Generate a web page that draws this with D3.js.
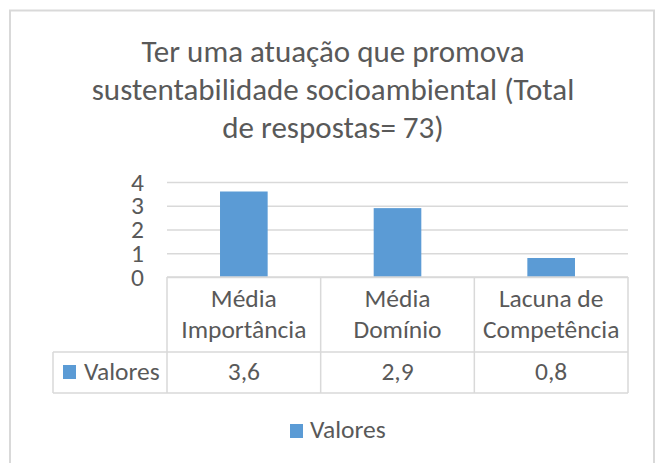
<!DOCTYPE html>
<html>
<head>
<meta charset="utf-8">
<script src="https://cdn.jsdelivr.net/npm/d3@7"></script>
<style>
  body { margin: 0; background: #fff; }
  text { font-family: Carlito, Calibri, "Liberation Sans Narrow", "DejaVu Sans Condensed", "Open Sans", sans-serif; fill: #595959; }
</style>
</head>
<body>
<script>
// Chart data

let titleLines = ["Ter uma atuação que promova", "sustentabilidade socioambiental (Total", "de respostas= 73)"]
let categories = ["Média Importância", "Média Domínio", "Lacuna de Competência"]
let categoryLines = [["Média", "Importância"], ["Média", "Domínio"], ["Lacuna de", "Competência"]]
let seriesName = "Valores"
let values = [3.6, 2.9, 0.8]
let valueLabels = ["3,6", "2,9", "0,8"]
let yTicks = [0, 1, 2, 3, 4]

// Container sizing

let width = 656
let height = 463

let plot = { left: 167, right: 628, top: 182, bottom: 277 }
let table = { left: 53, rowTop: 352, bottom: 393 }

let barColor = "#5b9bd5"
let lineColor = "#d9d9d9"
let labelSize = 25.5

let svg = d3.select('body')
    .append('svg')
    .attr('width', width)
    .attr('height', height)

// Chart frame (bottom edge runs past the picture)
svg.append('rect')
    .attr('x', 10)
    .attr('y', 10.5)
    .attr('width', 644)
    .attr('height', height + 10)
    .attr('fill', '#fff')
    .attr('stroke', lineColor)
    .attr('stroke-width', 2)

// Title
svg.append('text')
    .attr('text-anchor', 'middle')
    .attr('font-size', 31)
    .selectAll('tspan')
    .data(titleLines)
    .join('tspan')
    .attr('x', 333)
    .attr('y', (d, i) => 62 + i * 38)
    .text(d => d)

// Scales
let xScale = d3.scaleBand()
    .domain(categories)
    .range([plot.left, plot.right])
    .paddingInner(0.69)
    .paddingOuter(0.345)

let colScale = d3.scaleBand()
    .domain(categories)
    .range([plot.left, plot.right])

let yScale = d3.scaleLinear()
    .domain([0, 4])
    .range([plot.bottom, plot.top])

// Gridlines + y labels
let yAxis = d3.axisLeft(yScale)
    .tickValues(yTicks)
    .tickFormat(d3.format('d'))
    .tickSizeInner(-(plot.right - plot.left))
    .tickSizeOuter(0)
    .tickPadding(23)

let yGroup = svg.append('g')
    .attr('transform', `translate(${plot.left}, 0)`)
    .call(yAxis)

yGroup.select('.domain').remove()
yGroup.selectAll('.tick line').attr('stroke', lineColor).attr('stroke-width', 1.5)
yGroup.selectAll('.tick text')
    .attr('font-size', labelSize)
    .attr('fill', '#595959')
    .attr('font-family', null)

// Bars
svg.selectAll('.bar')
    .data(values)
    .join('rect')
    .attr('class', 'bar')
    .attr('x', (d, i) => xScale(categories[i]))
    .attr('y', d => yScale(d))
    .attr('width', xScale.bandwidth())
    .attr('height', d => yScale(0) - yScale(d))
    .attr('fill', barColor)

// Data table grid
let tableGroup = svg.append('g')
    .attr('stroke', lineColor)
    .attr('stroke-width', 1.5)

tableGroup.append('line')
    .attr('x1', plot.left).attr('x2', plot.right)
    .attr('y1', plot.bottom).attr('y2', plot.bottom)
tableGroup.append('line')
    .attr('x1', table.left).attr('x2', plot.right)
    .attr('y1', table.rowTop).attr('y2', table.rowTop)
tableGroup.append('line')
    .attr('x1', table.left).attr('x2', plot.right)
    .attr('y1', table.bottom).attr('y2', table.bottom)
tableGroup.append('line')
    .attr('x1', table.left).attr('x2', table.left)
    .attr('y1', table.rowTop).attr('y2', table.bottom)

tableGroup.selectAll('.vline')
    .data(categories.map(c => colScale(c)).concat([plot.right]))
    .join('line')
    .attr('class', 'vline')
    .attr('x1', d => d).attr('x2', d => d)
    .attr('y1', plot.bottom).attr('y2', table.bottom)

// Category labels
svg.selectAll('.cat')
    .data(categoryLines)
    .join('text')
    .attr('class', 'cat')
    .attr('text-anchor', 'middle')
    .attr('font-size', labelSize)
    .each(function(lines, i) {
        d3.select(this).selectAll('tspan')
            .data(lines)
            .join('tspan')
            .attr('x', colScale(categories[i]) + colScale.bandwidth() / 2)
            .attr('y', (d, j) => 307 + j * 31)
            .text(d => d)
    })

// Values row
svg.selectAll('.val')
    .data(valueLabels)
    .join('text')
    .attr('class', 'val')
    .attr('text-anchor', 'middle')
    .attr('font-size', labelSize)
    .attr('x', (d, i) => colScale(categories[i]) + colScale.bandwidth() / 2)
    .attr('y', 380)
    .text(d => d)

// Legend key inside table
svg.append('rect')
    .attr('x', 63).attr('y', 365)
    .attr('width', 13).attr('height', 14)
    .attr('fill', barColor)
svg.append('text')
    .attr('x', 84).attr('y', 380)
    .attr('font-size', labelSize)
    .text(seriesName)

// Bottom legend
svg.append('rect')
    .attr('x', 290).attr('y', 424)
    .attr('width', 13).attr('height', 14)
    .attr('fill', barColor)
svg.append('text')
    .attr('x', 310).attr('y', 438)
    .attr('font-size', labelSize)
    .text(seriesName)
</script>
</body>
</html>
